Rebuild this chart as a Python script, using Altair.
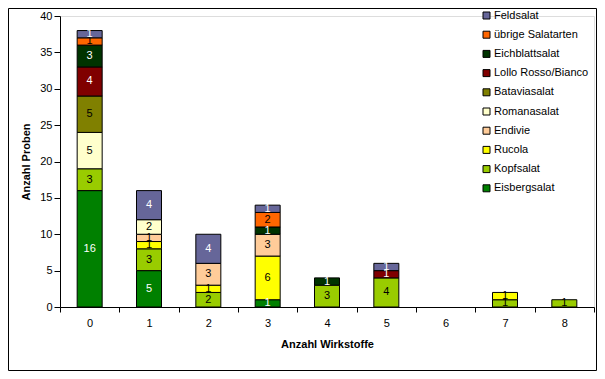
import altair as alt
import pandas as pd

categories = ["0", "1", "2", "3", "4", "5", "6", "7", "8"]
series = ["Eisbergsalat", "Kopfsalat", "Rucola", "Endivie", "Romanasalat",
          "Bataviasalat", "Lollo Rosso/Bianco", "Eichblattsalat",
          "übrige Salatarten", "Feldsalat"]
colors = ["#008000", "#99CC00", "#FFFF00", "#FFCC99", "#FFFFCC",
          "#808000", "#800000", "#003300", "#FF6600", "#666699"]
text_colors = ["white", "black", "black", "black", "black",
               "black", "white", "white", "black", "white"]

eisberg = [16, 5, 0, 1, 0, 0, 0, 0, 0]
kopf = [3, 3, 2, 0, 3, 4, 0, 1, 1]
rucola = [0, 1, 1, 6, 0, 0, 0, 1, 0]
endivie = [0, 1, 3, 3, 0, 0, 0, 0, 0]
romana = [5, 2, 0, 0, 0, 0, 0, 0, 0]
batavia = [5, 0, 0, 0, 0, 0, 0, 0, 0]
lollo = [4, 0, 0, 0, 0, 1, 0, 0, 0]
eichblatt = [3, 0, 0, 1, 1, 0, 0, 0, 0]
uebrige = [1, 0, 0, 2, 0, 0, 0, 0, 0]
feld = [1, 4, 4, 1, 0, 1, 0, 0, 0]

values = [eisberg, kopf, rucola, endivie, romana, batavia, lollo,
          eichblatt, uebrige, feld]

rows = []
for i, (s, vals) in enumerate(zip(series, values)):
    for c, v in zip(categories, vals):
        if v > 0:
            rows.append({"cat": c, "series": s, "value": v, "ord": i,
                         "tc": text_colors[i]})
df = pd.DataFrame(rows)

FONT = "Liberation Sans"
W, H = 534, 291
PAD = {"left": 52, "top": 8, "right": 3, "bottom": 64}

x_scale = alt.Scale(domain=categories, paddingInner=0, paddingOuter=0)
x_axis = alt.Axis(title="Anzahl Wirkstoffe", labelAngle=0, tickBand="extent",
                  tickSize=5, labelPadding=5, titlePadding=10,
                  domainColor="black", tickColor="black",
                  labelColor="black", titleColor="black",
                  labelFont=FONT, titleFont=FONT, labelFontSize=11,
                  titleFontSize=11, titleFontWeight="bold", grid=False)
y_scale = alt.Scale(domain=[0, 40], nice=False, zero=True)
y_axis = alt.Axis(title="Anzahl Proben", tickCount=8, tickMinStep=5, labelOverlap=False,
                  tickSize=6, labelPadding=2, titlePadding=8, grid=False,
                  domainColor="black", tickColor="black",
                  labelColor="black", titleColor="black",
                  labelFont=FONT, titleFont=FONT, labelFontSize=11,
                  titleFontSize=11, titleFontWeight="bold")

base = alt.Chart(df)

bars = base.mark_bar(size=25, stroke="black", strokeWidth=1).encode(
    x=alt.X("cat:N", scale=x_scale, axis=x_axis),
    y=alt.Y("sum(value):Q", stack="zero", scale=y_scale, axis=y_axis),
    color=alt.Color("series:N",
                    scale=alt.Scale(domain=series[::-1], range=colors[::-1]),
                    legend=alt.Legend(title=None, orient="none", legendX=421, legendY=-6,
                                      symbolType="square", symbolSize=49,
                                      symbolStrokeColor="black", symbolStrokeWidth=1,
                                      labelFont=FONT, labelFontSize=11,
                                      labelColor="black", rowPadding=7.2,
                                      labelOffset=2)),
    order=alt.Order("ord:Q"),
)

labels = base.transform_stack(
    stack="value", groupby=["cat"], sort=[alt.SortField("ord")], as_=["y0", "y1"]
).transform_calculate(mid="(datum.y0 + datum.y1) / 2").mark_text(
    font=FONT, fontSize=11, baseline="middle", align="center"
).encode(
    x=alt.X("cat:N", scale=x_scale, axis=x_axis),
    y=alt.Y("mid:Q", scale=y_scale, axis=y_axis),
    text=alt.Text("value:Q"),
    color=alt.Color("tc:N", scale=None),
)

frame = alt.Chart(pd.DataFrame({"a": [0]})).mark_rect(
    filled=False, stroke="black", strokeWidth=1
).encode(
    x=alt.value(-PAD["left"] + 0.5), x2=alt.value(W + PAD["right"] - 0.5),
    y=alt.value(-PAD["top"] + 0.5), y2=alt.value(H + PAD["bottom"] - 0.5),
)

chart = alt.layer(bars, labels, frame).properties(
    width=W, height=H,
    autosize=alt.AutoSizeParams(type="none"),
    padding=PAD,
).configure_view(stroke=None).configure(background="white")

chart.save("out.html", embed_options={"renderer": "svg", "actions": False})
